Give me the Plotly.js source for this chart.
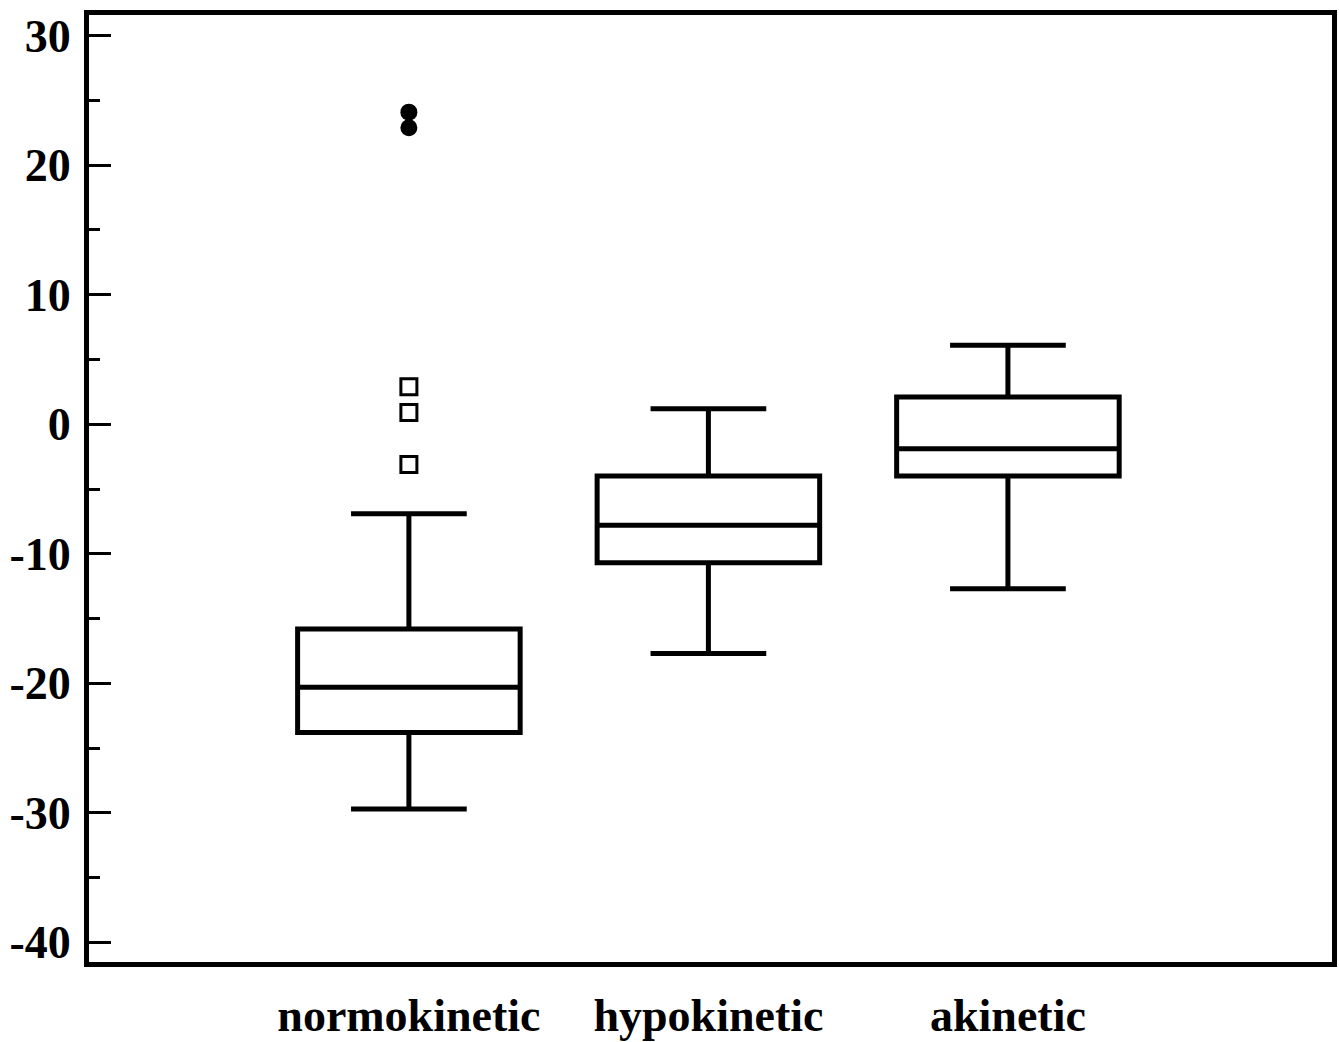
<!DOCTYPE html>
<html>
<head>
<meta charset="utf-8">
<script src="https://cdn.plot.ly/plotly-3.0.1.min.js"></script>
<style>html,body{margin:0;padding:0;background:#fff;}#chart{width:1339px;height:1042px;}</style>
</head>
<body>
<div id="chart"></div>
<script>
// Data
const categories = ["normokinetic", "hypokinetic", "akinetic"];
const q1Values = [-23.8, -10.7, -4.0];
const medianValues = [-20.3, -7.8, -1.9];
const q3Values = [-15.8, -4.0, 2.1];
const lowerWhisker = [-29.7, -17.7, -12.7];
const upperWhisker = [-6.9, 1.2, 6.1];

// Outliers (normokinetic group)
const outsideX = ["normokinetic", "normokinetic", "normokinetic"];
const outsideY = [2.9, 0.9, -3.1];
const farOutX = ["normokinetic", "normokinetic"];
const farOutY = [24.1, 22.9];

const yTickVals = [-40, -30, -20, -10, 0, 10, 20, 30];
const yTickText = ["-40", "-30", "-20", "-10", "0", "10", "20", "30"];

const fontFam = "'Liberation Serif', 'Times New Roman', serif";

const traces = [
  {
    type: "box",
    x: categories,
    q1: q1Values,
    median: medianValues,
    q3: q3Values,
    lowerfence: lowerWhisker,
    upperfence: upperWhisker,
    boxpoints: false,
    width: 0.743,
    whiskerwidth: 0.52,
    fillcolor: "rgba(255,255,255,0)",
    line: { color: "#000", width: 5 },
    hoverinfo: "skip",
    showlegend: false
  },
  {
    type: "scatter",
    mode: "markers",
    x: outsideX,
    y: outsideY,
    marker: { symbol: "square-open", size: 16, color: "#000", line: { width: 3, color: "#000" } },
    showlegend: false,
    hoverinfo: "skip"
  },
  {
    type: "scatter",
    mode: "markers",
    x: farOutX,
    y: farOutY,
    marker: { symbol: "circle", size: 17, color: "#000" },
    showlegend: false,
    hoverinfo: "skip"
  }
];

const layout = {
  width: 1339,
  height: 1042,
  margin: { l: 89, r: 7, t: 15, b: 80, pad: 0 },
  paper_bgcolor: "#fff",
  plot_bgcolor: "#fff",
  showlegend: false,
  font: { family: fontFam, size: 46, color: "#000", weight: "bold" },
  xaxis: {
    type: "category",
    categoryorder: "array",
    categoryarray: categories,
    range: [-1.068, 3.082],
    showline: true,
    linecolor: "#000",
    linewidth: 5,
    mirror: true,
    ticks: "",
    showgrid: false,
    zeroline: false,
    tickfont: { family: fontFam, size: 46, color: "#000", weight: "bold" },
    ticklabelstandoff: 9
  },
  yaxis: {
    range: [-41.52, 31.6],
    tickvals: yTickVals,
    ticktext: yTickText,
    showline: true,
    linecolor: "#000",
    linewidth: 5,
    mirror: true,
    ticks: "inside",
    ticklen: 22,
    tickwidth: 3,
    tickcolor: "#000",
    minor: { dtick: 5, tick0: 0, ticks: "inside", ticklen: 11, tickwidth: 3, tickcolor: "#000", showgrid: false },
    showgrid: false,
    zeroline: false,
    tickfont: { family: fontFam, size: 46, color: "#000", weight: "bold" },
    ticklabelstandoff: 4
  }
};

Plotly.newPlot("chart", traces, layout, { displayModeBar: false, staticPlot: true });
</script>
</body>
</html>
